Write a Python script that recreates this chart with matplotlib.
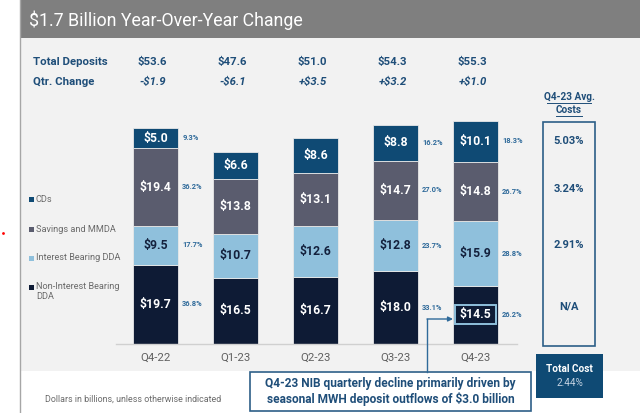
import matplotlib
matplotlib.use("Agg")
import matplotlib.pyplot as plt
from matplotlib.patches import Rectangle, FancyArrowPatch

plt.rcParams['font.family'] = ['Roboto', 'DejaVu Sans']

# ---------------- data ----------------
quarters = ["Q4-22", "Q1-23", "Q2-23", "Q3-23", "Q4-23"]
nib = [19.7, 16.5, 16.7, 18.0, 14.5]
ib_dda = [9.5, 10.7, 12.6, 12.8, 15.9]
savings = [19.4, 13.8, 13.1, 14.7, 14.8]
cds = [5.0, 6.6, 8.6, 8.8, 10.1]
pct_nib = [36.8, None, None, 33.1, 26.2]
pct_ib = [17.7, None, None, 23.7, 28.8]
pct_sav = [36.2, None, None, 27.0, 26.7]
pct_cd = [9.3, None, None, 16.2, 18.3]
total_deposits = ["$53.6", "$47.6", "$51.0", "$54.3", "$55.3"]
qtr_change = ["-$1.9", "-$6.1", "+$3.5", "+$3.2", "+$1.0"]
avg_costs = ["5.03%", "3.24%", "2.91%", "N/A"]
total_cost = "2.44%"
series_names = ["CDs", "Savings and MMDA", "Interest Bearing DDA", "Non-Interest Bearing\nDDA"]

C_CD = "#0f4a74"
C_SAV = "#5a5c6e"
C_IB = "#8fc0dc"
C_NIB = "#0e1b35"
C_TXT = "#1f4e79"
C_PCT = "#2f6a9a"

W, H = 640, 413
fig = plt.figure(figsize=(W / 100, H / 100), dpi=100)

# background axes in pixel coordinates
bg = fig.add_axes([0, 0, 1, 1], zorder=0)
bg.set_xlim(0, W); bg.set_ylim(H, 0); bg.axis("off")
bg.add_patch(Rectangle((20, 38), W - 20, 333, facecolor="#f2f2f2", edgecolor="none"))
bg.add_patch(Rectangle((20, 0), W - 20, 38, facecolor="#7f7f7f", edgecolor="none"))
bg.plot([20, 20], [0, H], color="#a6a6a6", lw=1)
bg.plot([2.5], [233], marker="o", ms=2, color="red", mec="none")

# bar axes
x0, x1 = 116, 517
base = 344
ppu = 4.03
top = 100
ax = fig.add_axes([x0 / W, (H - base) / H, (x1 - x0) / W, (base - top) / H], zorder=1)
ax.patch.set_alpha(0)
ax.set_xlim(-0.494, 4.519)
ax.set_ylim(0, (base - top) / ppu)
for s in ["top", "right", "left"]:
    ax.spines[s].set_visible(False)
ax.spines["bottom"].set_color("#d0d0d0")
ax.spines["bottom"].set_linewidth(1)
ax.set_yticks([])
xs = list(range(len(quarters)))
ax.set_xticks(xs)
ax.set_xticklabels(quarters, fontsize=8.2, color="#606060")
ax.tick_params(axis="x", length=0, pad=6)

bw = 0.5625
bottom = [0.0] * len(quarters)
layers = [(nib, C_NIB, "white", pct_nib),
          (ib_dda, C_IB, "#14213d", pct_ib),
          (savings, C_SAV, "white", pct_sav),
          (cds, C_CD, "white", pct_cd)]
centers_nib = []
for vals, col, tcol, pcts in layers:
    ax.bar(xs, vals, bw, bottom=bottom, color=col, edgecolor="#e8e8e8", linewidth=0.6)
    for i, v in enumerate(vals):
        cy = bottom[i] + v / 2
        ax.text(i, cy, f"${v:.1f}", ha="center", va="center", color=tcol,
                fontsize=8.8, fontweight="bold")
        if pcts[i] is not None:
            ax.annotate(f"{pcts[i]:.1f}%", (i + bw / 2, cy), xytext=(3, 0),
                        textcoords="offset points", ha="left", va="center",
                        fontsize=5.4, fontweight="bold", color=C_PCT)
    if vals is nib:
        centers_nib = [b + v / 2 for b, v in zip(bottom, vals)]
    bottom = [b + v for b, v in zip(bottom, vals)]

# highlight box around Q4-23 NIB value
ax.add_patch(Rectangle((4 - bw / 2 + 0.03, centers_nib[4] - 2.35), bw - 0.05, 4.7,
                       facecolor="none", edgecolor="#8fc0dc", linewidth=1.4, zorder=5))

# overlay axes in pixel coordinates
ov = fig.add_axes([0, 0, 1, 1], zorder=3)
ov.patch.set_alpha(0)
ov.set_xlim(0, W); ov.set_ylim(H, 0); ov.axis("off")

ov.text(29, 20, "$1.7 Billion Year-Over-Year Change", color="white", fontsize=12.8,
        va="center", ha="left")

pix_centers = [x0 + (i + 0.494) / (4.519 + 0.494) * (x1 - x0) for i in xs]
ov.text(33, 62, "Total Deposits", color=C_TXT, fontsize=8.2, fontweight="bold", va="center")
ov.text(33, 82, "Qtr. Change", color=C_TXT, fontsize=8.2, fontweight="bold", va="center")
for i, px in enumerate(pix_centers):
    ov.text(px - 3, 62, total_deposits[i], color=C_TXT, fontsize=8.2, fontweight="bold",
            ha="center", va="center")
    ov.text(px - 3, 82, qtr_change[i], color=C_TXT, fontsize=8.2, fontweight="bold",
            style="italic", ha="center", va="center")

# legend
leg_cols = [C_CD, C_SAV, C_IB, C_NIB]
leg_y = [199, 229, 258, 287]
for name, col, yy in zip(series_names, leg_cols, leg_y):
    ov.add_patch(Rectangle((29, yy - 2.5), 5, 5, facecolor=col, edgecolor="none"))
    multi = "\n" in name
    ov.text(36, yy - 5 if multi else yy, name, color="#6a6a6a", fontsize=6.6,
            va="top" if multi else "center", ha="left", linespacing=1.2)

# avg costs box
ov.text(569, 97, "Q4-23 Avg.", color=C_TXT, fontsize=7.2, fontweight="bold", ha="center", va="center")
ov.text(569, 110, "Costs", color=C_TXT, fontsize=7.2, fontweight="bold", ha="center", va="center")
ov.plot([547, 591], [103, 103], color=C_TXT, lw=0.7)
ov.plot([556, 582], [116, 116], color=C_TXT, lw=0.7)
ov.add_patch(Rectangle((543, 122), 52, 224, facecolor="none", edgecolor="#2d5f88", linewidth=1.2))
for txt, yy in zip(avg_costs, [141, 189, 245, 307]):
    ov.text(569, yy, txt, color=C_TXT, fontsize=8, fontweight="bold", ha="center", va="center")

ov.add_patch(Rectangle((536, 354), 67, 44, facecolor=C_CD, edgecolor="none"))
ov.text(569.5, 369, "Total Cost", color="white", fontsize=7.2, fontweight="bold", ha="center", va="center")
ov.text(569.5, 383, total_cost, color="#c5d3e2", fontsize=7.2, ha="center", va="center")

# callout
ov.add_patch(Rectangle((250, 372), 281, 39, facecolor="white", edgecolor="#2d5f88", linewidth=1.2))
ov.text(390.5, 391.5, "Q4-23 NIB quarterly decline primarily driven by\nseasonal MWH deposit outflows of $3.0 billion",
        color=C_TXT, fontsize=8.6, fontweight="bold", ha="center", va="center", linespacing=1.25)
ov.plot([427, 427], [372, 319], color=C_PCT, lw=1)
ov.add_patch(FancyArrowPatch((427, 319), (453, 319), arrowstyle="-|>", mutation_scale=7,
                             color=C_PCT, lw=1, shrinkA=0, shrinkB=0))

ov.text(45, 399, "Dollars in billions, unless otherwise indicated", color="#6a6a6a",
        fontsize=6.4, ha="left", va="center")

fig.savefig("out.png", dpi=100)
